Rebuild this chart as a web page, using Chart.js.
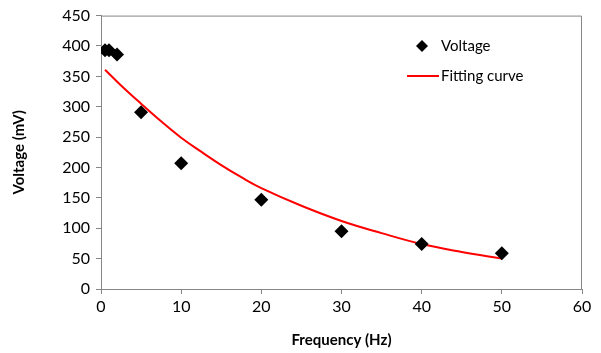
<!DOCTYPE html>
<html lang="en">

<head>
    <meta charset="UTF-8">
    <title>Voltage vs Frequency</title>
    <style>
        body { margin: 0; background: #fff; }
        .container { width: 601px; height: 353px; }
    </style>
</head>

<body>
    <div class="container">
        <canvas id="grafico"></canvas>
    </div>

    <script src="https://cdn.jsdelivr.net/npm/chart.js"></script>
    <script>
        // measured points
        let frecuencias = [0.5, 1, 2, 5, 10, 20, 30, 40, 50]
        let voltajes = [393, 393, 386, 291, 207, 147, 95, 74, 59]

        // fitting curve
        let curvaX = [0.5, 2.5, 5, 7.5, 10, 12.5, 15, 17.5, 20, 25, 30, 35, 40, 45, 50]
        let curvaY = [361, 335, 305, 276, 249, 226, 204, 184, 166, 137, 112, 92, 74, 61, 50]

        let xTicks = [0, 10, 20, 30, 40, 50, 60]
        let yTicks = [0, 50, 100, 150, 200, 250, 300, 350, 400, 450]

        let fuente = "Lato, 'Open Sans', sans-serif"
        let gris = "#868686"

        let puntosVoltaje = frecuencias.map((f, i) => ({ x: f, y: voltajes[i] }))
        let puntosCurva = curvaX.map((f, i) => ({ x: f, y: curvaY[i] }))

        // box around the plot + legend inside it
        let marcoYLeyenda = {
            id: "marcoYLeyenda",
            afterDraw(chart) {
                let ctx = chart.ctx
                let area = chart.chartArea
                ctx.save()
                ctx.strokeStyle = gris
                ctx.lineWidth = 1
                ctx.beginPath()
                ctx.moveTo(area.left, area.top + 0.5)
                ctx.lineTo(area.right - 0.5, area.top + 0.5)
                ctx.lineTo(area.right - 0.5, area.bottom)
                ctx.stroke()

                let ds = chart.data.datasets
                ctx.font = "15px " + fuente
                ctx.fillStyle = "#000"
                ctx.textBaseline = "middle"
                // diamond
                let cx = 422, cy = 46
                ctx.beginPath()
                ctx.moveTo(cx, cy - 6)
                ctx.lineTo(cx + 6, cy)
                ctx.lineTo(cx, cy + 6)
                ctx.lineTo(cx - 6, cy)
                ctx.closePath()
                ctx.fill()
                ctx.fillText(ds[0].label, 441, cy)
                // line
                ctx.strokeStyle = "#ff0000"
                ctx.lineWidth = 2
                ctx.beginPath()
                ctx.moveTo(407, 76)
                ctx.lineTo(439, 76)
                ctx.stroke()
                ctx.fillText(ds[1].label, 441, 76)
                ctx.restore()
            }
        }

        new Chart(document.querySelector("#grafico"), {
            type: "scatter",
            data: {
                datasets: [
                    {
                        label: "Voltage",
                        data: puntosVoltaje,
                        pointStyle: "rectRot",
                        pointRadius: 7,
                        pointHoverRadius: 7,
                        backgroundColor: "#000",
                        borderColor: "#000",
                        borderWidth: 0,
                        order: 1
                    },
                    {
                        label: "Fitting curve",
                        data: puntosCurva,
                        showLine: true,
                        pointRadius: 0,
                        borderColor: "#ff0000",
                        borderWidth: 2,
                        tension: 0.4,
                        order: 2
                    }
                ]
            },
            options: {
                responsive: true,
                maintainAspectRatio: false,
                animation: false,
                layout: { padding: { top: 13, right: 19, left: 0, bottom: 0 } },
                plugins: {
                    legend: { display: false },
                    tooltip: { enabled: false }
                },
                scales: {
                    x: {
                        type: "linear",
                        min: 0,
                        max: 60,
                        afterBuildTicks: (scale) => { scale.ticks = xTicks.map(v => ({ value: v })) },
                        afterFit: (scale) => { scale.height = 64 },
                        grid: { drawOnChartArea: false, drawTicks: true, tickLength: 5, color: gris },
                        border: { color: gris },
                        ticks: { color: "#000", font: { family: fuente, size: 16 }, padding: 3, maxRotation: 0 },
                        title: {
                            display: true,
                            text: "Frequency (Hz)",
                            color: "#000",
                            font: { family: fuente, size: 15, weight: "bold" },
                            padding: { top: 8 }
                        }
                    },
                    y: {
                        min: 0,
                        max: 450,
                        afterBuildTicks: (scale) => { scale.ticks = yTicks.map(v => ({ value: v })) },
                        afterFit: (scale) => { scale.width = 101 },
                        grid: { drawOnChartArea: false, drawTicks: true, tickLength: 5, color: gris },
                        border: { color: gris },
                        ticks: { color: "#000", font: { family: fuente, size: 16 }, padding: 6 },
                        title: {
                            display: true,
                            text: "Voltage (mV)",
                            color: "#000",
                            font: { family: fuente, size: 15, weight: "bold" },
                            padding: { top: 10, bottom: 4 }
                        }
                    }
                }
            },
            plugins: [marcoYLeyenda]
        })
    </script>
</body>

</html>
